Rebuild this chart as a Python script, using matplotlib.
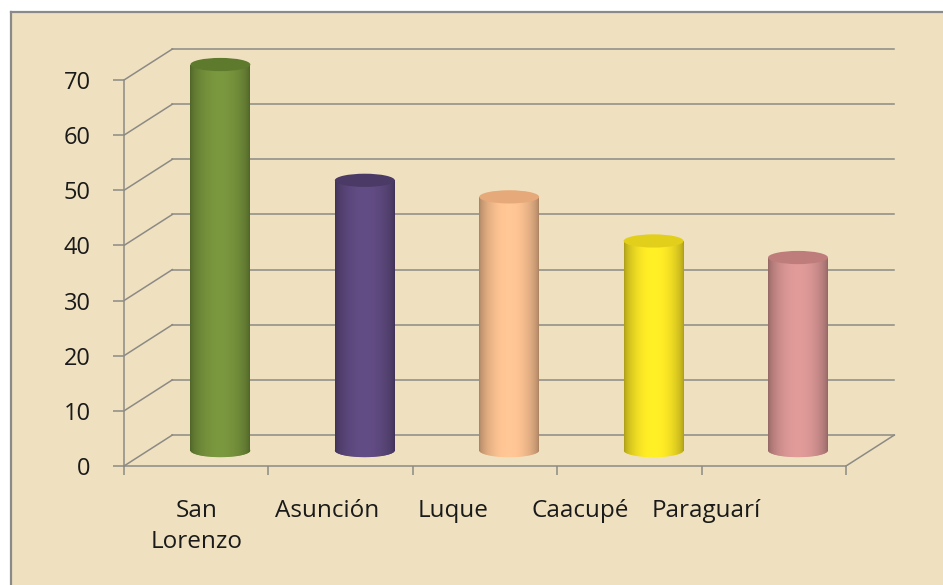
import matplotlib
matplotlib.use("Agg")
import matplotlib.pyplot as plt
import matplotlib.colors as mcolors
from matplotlib.patches import Ellipse, Rectangle
from matplotlib.lines import Line2D
import numpy as np

plt.rcParams['font.family'] = ['Open Sans', 'DejaVu Sans']

# data
categories = ["San\nLorenzo", "Asunción", "Luque", "Caacupé", "Paraguarí"]
values = [70, 49, 46, 38, 35]
yticks = [0, 10, 20, 30, 40, 50, 60, 70]

# style
body_colors = ["#76933C", "#5F4A80", "#FAC090", "#FBE725", "#D99694"]
top_colors = ["#5E7A2C", "#4B3A66", "#E5A97A", "#E2CF1C", "#BE7D7B"]
label_pos = [0.0, 0.91, 1.78, 2.66, 3.53]
grid_col = "#8C8A84"
bg_col = "#EFE1C0"

W, H = 943, 585
DX, DY = 0.335, 5.62      # depth offset (data units)
BAR_W = 0.415
ELL_H = 2.4


def shade(color, n=80):
    rgb = np.array(mcolors.to_rgb(color))
    t = np.linspace(0, 1, n)
    f = 0.68 + 0.36 * np.sin(np.pi * t) ** 0.6
    return np.clip(rgb[None, :] * f[:, None], 0, 1)[None, :, :]


fig = plt.figure(figsize=(W / 100, H / 100), dpi=100)
fig.patch.set_facecolor("white")
fig.add_artist(Rectangle((11 / W, 0), 1, 1 - 12 / H, transform=fig.transFigure,
                         facecolor=bg_col, edgecolor="none", zorder=0))
fig.add_artist(Line2D([11 / W, 11 / W], [0, 1 - 12 / H], transform=fig.transFigure,
                      color="#8A8A8A", lw=1.6))
fig.add_artist(Line2D([11 / W, 1], [1 - 12 / H, 1 - 12 / H], transform=fig.transFigure,
                      color="#8A8A8A", lw=1.6))

ax = fig.add_axes([124 / W, (H - 466) / H, 772 / W, 426 / H])
ax.set_facecolor("none")

# walls / gridlines
for v in yticks:
    ax.plot([-0.5 + DX, 4.5 + DX], [v + DY, v + DY], color=grid_col, lw=1.1, zorder=1)
    ax.plot([-0.5, -0.5 + DX], [v, v + DY], color=grid_col, lw=1.1, zorder=1)
ax.plot([4.5, 4.5 + DX], [0, DY], color=grid_col, lw=1.1, zorder=1)

# cylinders
xs = np.arange(len(values)) + DX / 2
base = DY / 2
bars = ax.bar(xs, values, width=BAR_W, bottom=base, color=body_colors, zorder=3)
for i, (bar, v) in enumerate(zip(bars, values)):
    cx = xs[i]
    bot = Ellipse((cx, base), BAR_W, ELL_H, facecolor=body_colors[i],
                  edgecolor="none", zorder=3)
    ax.add_patch(bot)
    for clip in (bar, bot):
        im = ax.imshow(shade(body_colors[i]), extent=(cx - BAR_W / 2, cx + BAR_W / 2,
                       base - ELL_H, base + v), aspect="auto", zorder=3.5,
                       interpolation="bilinear")
        im.set_clip_path(clip)
    top = Ellipse((cx, base + v), BAR_W, ELL_H, facecolor=top_colors[i],
                  edgecolor="none", zorder=4)
    ax.add_patch(top)

# axes
for s in ["top", "right"]:
    ax.spines[s].set_visible(False)
ax.spines["left"].set_bounds(0, 70)
ax.spines["bottom"].set_bounds(-0.5, 4.5)
for s in ["left", "bottom"]:
    ax.spines[s].set_color(grid_col)
    ax.spines[s].set_linewidth(1.1)

ax.set_yticks(yticks)
ax.tick_params(axis="y", direction="out", length=8, width=1.1, color=grid_col,
               pad=16, labelsize=17, labelcolor="#1a1a1a")
ax.set_xticks(np.arange(-0.5, 5, 1))
ax.set_xticklabels([])
ax.tick_params(axis="x", which="major", direction="out", length=6.5, width=1.1,
               color=grid_col)
ax.set_xticks(label_pos, minor=True)
ax.set_xticklabels(categories, minor=True, fontsize=17.5, color="#1a1a1a",
                   linespacing=1.35)
ax.tick_params(axis="x", which="minor", length=0, pad=24)

ax.set_xlim(-0.5, -0.5 + 772 / 144.4)
ax.set_ylim(0, 426 / 5.514)

fig.savefig("out.png", dpi=100)
